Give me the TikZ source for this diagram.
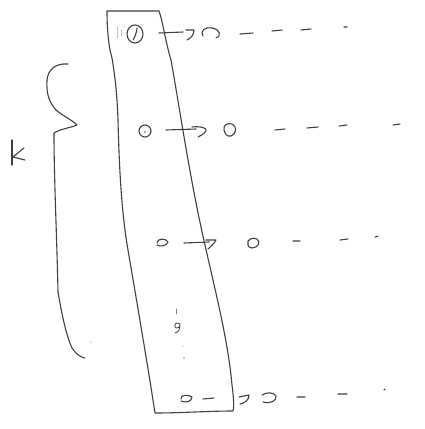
\documentclass[tikz,border=0pt]{standalone}
\begin{document}
\begin{tikzpicture}[x=1pt,y=-1pt,
  ink/.style={draw=black!75,line width=1.1pt,line cap=round,line join=round},
  thin ink/.style={draw=black!30,line width=0.5pt,line cap=round,dash pattern=on 1.5pt off 1pt}]
\useasboundingbox[fill=white] (0,0) rectangle (424,429);
% strip
\draw[ink] (112,58) .. controls (108,45) and (107,25) .. (107,11)
  -- (159,11) .. controls (163,22) and (165,40) .. (171,60)
  .. controls (180,110) and (190,180) .. (205,245)
  .. controls (215,290) and (228,340) .. (232,385)
  .. controls (234,400) and (234,408) .. (233,411)
  .. controls (210,411) and (180,413) .. (155,413)
  .. controls (150,380) and (140,320) .. (128,250)
  .. controls (121,210) and (119,160) .. (118,120)
  .. controls (117,90) and (114,70) .. (112,58);
% row 1
\draw[ink] (135,34) ellipse [x radius=8,y radius=9];
\draw[ink] (133,40) .. controls (136,35) and (137,30) .. (137,28);
\draw[thin ink] (117,27) -- (117,38) (121,30) -- (121,36);
\draw[ink] (159,33) -- (183,32);
\draw[ink] (186,30) -- (194,30) .. controls (194,35) and (191,38) .. (187,40);
\draw[ink] (203,36) .. controls (200,30) and (205,27) .. (212,28)
  .. controls (220,29) and (222,36) .. (216,38);
\draw[ink] (240,34) -- (253,33) (272,31) -- (282,30) (301,30) -- (311,29) (344,27) -- (347,27);
% row 2
\draw[ink] (145,131) circle (6);
\fill[black!70] (145,132) circle (0.9);
\draw[ink] (166,130) -- (196,129);
\draw[ink] (192,127) .. controls (200,126) and (208,128) .. (206,131)
  .. controls (204,134) and (200,136) .. (198,137);
\draw[ink] (224,130) .. controls (223,124) and (228,123) .. (232,124)
  .. controls (237,126) and (237,134) .. (231,136) .. controls (227,137) and (225,134) .. (224,130);
\draw[ink] (275,130) -- (285,129) (307,128) -- (318,127) (339,126) -- (347,125) (393,125) -- (400,124);
% row 3
\draw[ink] (157,243) .. controls (157,238) and (166,238) .. (168,242)
  .. controls (167,246) and (160,247) .. (157,245);
\draw[ink] (184,243) -- (209,242);
\draw[ink] (206,240) -- (216,240) .. controls (214,244) and (211,246) .. (208,249);
\draw[ink] (248,245) .. controls (246,239) and (253,237) .. (257,239)
  .. controls (261,242) and (258,248) .. (252,248) .. controls (249,248) and (248,246) .. (248,245);
\draw[ink] (293,241) -- (300,241) (340,240) -- (348,239) (375,237) -- (378,236);
% dots
\draw[ink,draw=black!50,line width=0.7pt] (176,309) -- (176,314);
\draw[ink,line width=0.8pt] (180,324) .. controls (176,321) and (173,325) .. (176,328)
  .. controls (178,329) and (180,327) .. (180,324) .. controls (180,329) and (179,332) .. (175,333);
\fill[black!40] (183,346) circle (0.6) (184,358) circle (0.8);
% row 4
\draw[ink] (181,399) .. controls (180,395) and (188,394) .. (192,397)
  .. controls (192,402) and (185,403) .. (181,401);
\draw[ink] (203,399) -- (214,398);
\draw[ink] (239,397) -- (249,395) .. controls (249,400) and (245,403) .. (240,404);
\draw[ink] (262,395) .. controls (266,392) and (274,392) .. (276,396)
  .. controls (277,401) and (270,404) .. (263,402);
\draw[ink] (297,397) -- (305,397) (338,394) -- (347,394) (384,390) -- (385,389);
% brace
\draw[ink] (68,64) .. controls (55,63) and (48,70) .. (47,80)
  .. controls (46,95) and (50,103) .. (56,110)
  .. controls (63,116) and (72,120) .. (77,125)
  .. controls (70,128) and (60,129) .. (54,133)
  .. controls (54,180) and (57,240) .. (58,292)
  .. controls (62,315) and (66,335) .. (72,348)
  .. controls (76,354) and (80,357) .. (85,358);
\fill[black!40] (91,342) circle (0.6);
% K
\draw[ink] (12,140) -- (12,165);
\draw[ink] (24,148) -- (13,157) -- (25,160);
\end{tikzpicture}
\end{document}
